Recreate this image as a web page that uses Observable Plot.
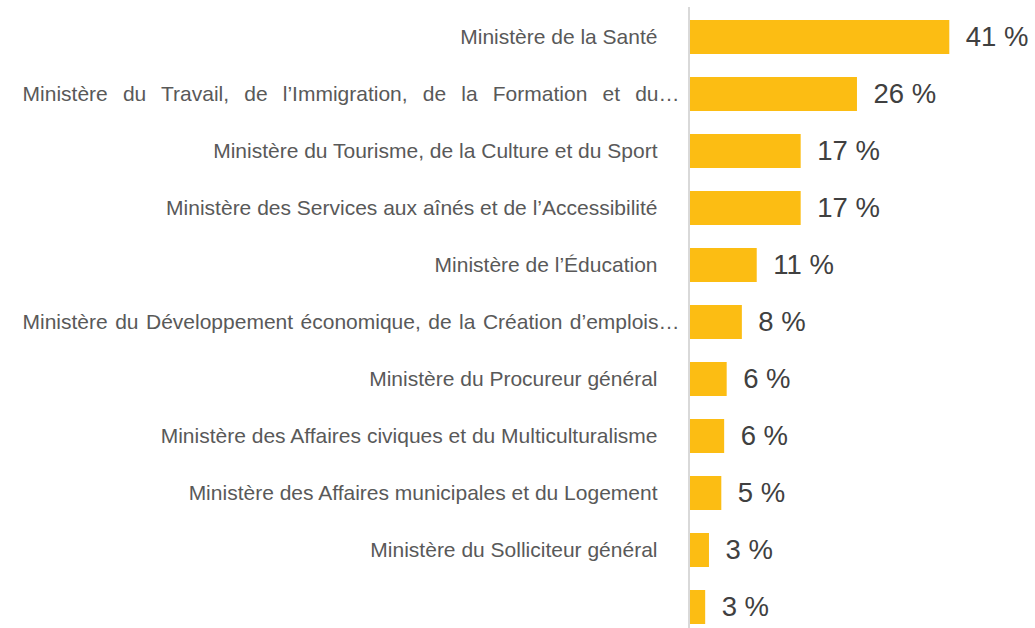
<!DOCTYPE html>
<html>
<head>
<meta charset="utf-8">
<script src="https://cdn.jsdelivr.net/npm/d3@7"></script>
<script src="https://cdn.jsdelivr.net/npm/@observablehq/plot@0.6"></script>
<style>
  html, body { margin: 0; padding: 0; background: #fff; }
  svg { display: block; }
</style>
</head>
<body>
<div id="chart"></div>
<script>
const categories = [
  "Ministère de la Santé",
  "Ministère du Travail, de l’Immigration, de la Formation et du…",
  "Ministère du Tourisme, de la Culture et du Sport",
  "Ministère des Services aux aînés et de l’Accessibilité",
  "Ministère de l’Éducation",
  "Ministère du Développement économique, de la Création d’emplois…",
  "Ministère du Procureur général",
  "Ministère des Affaires civiques et du Multiculturalisme",
  "Ministère des Affaires municipales et du Logement",
  "Ministère du Solliciteur général",
  ""
];
const values = [41, 26.4, 17.5, 17.5, 10.55, 8.2, 5.8, 5.4, 4.95, 3.0, 2.4];
const valueLabels = ["41 %", "26 %", "17 %", "17 %", "11 %", "8 %", "6 %", "6 %", "5 %", "3 %", "3 %"];
const truncated = [false, true, false, false, false, true, false, false, false, false, false];

const keys = categories.map((c, i) => "k" + i);
const data = categories.map((c, i) => ({
  key: keys[i], label: c, value: values[i], vlabel: valueLabels[i], trunc: truncated[i]
}));

const chart = Plot.plot({
  width: 1035,
  height: 628,
  marginLeft: 0, marginRight: 0, marginTop: 0, marginBottom: 0,
  style: { fontFamily: "Liberation Sans, Arial, sans-serif", background: "#fff" },
  x: { domain: [0, 41], range: [690, 949.3], axis: null },
  y: { domain: keys, range: [19, 624], paddingInner: 0.405, paddingOuter: 0, axis: null },
  marks: [
    Plot.ruleX([0], { dx: -1.5, insetTop: 7, stroke: "#d9d9d9", strokeWidth: 2 }),
    Plot.barX(data, { y: "key", x: "value", fill: "#FCBD13" }),
    Plot.text(data.filter(d => !d.trunc), {
      y: "key", x: 0, text: "label", textAnchor: "end", dx: -33,
      fontSize: 21, fill: "#595959"
    }),
    Plot.text(data.filter(d => d.trunc), {
      y: "key", x: 0, text: "label", textAnchor: "end", dx: -11,
      fontSize: 21, fill: "#595959", className: "trunc"
    }),
    Plot.text(data, {
      y: "key", x: "value", text: "vlabel", textAnchor: "start", dx: 16,
      fontSize: 27.5, fill: "#404040"
    })
  ]
});
document.getElementById("chart").appendChild(chart);

// justify the truncated labels between x=22 and x=679
chart.querySelectorAll(".trunc text").forEach(t => {
  const w = t.getComputedTextLength();
  const target = 679 - 22;
  const spaces = (t.textContent.match(/ /g) || []).length;
  if (spaces > 0) {
    t.setAttribute("word-spacing", ((target - w) / spaces).toFixed(2));
  }
});
</script>
</body>
</html>
